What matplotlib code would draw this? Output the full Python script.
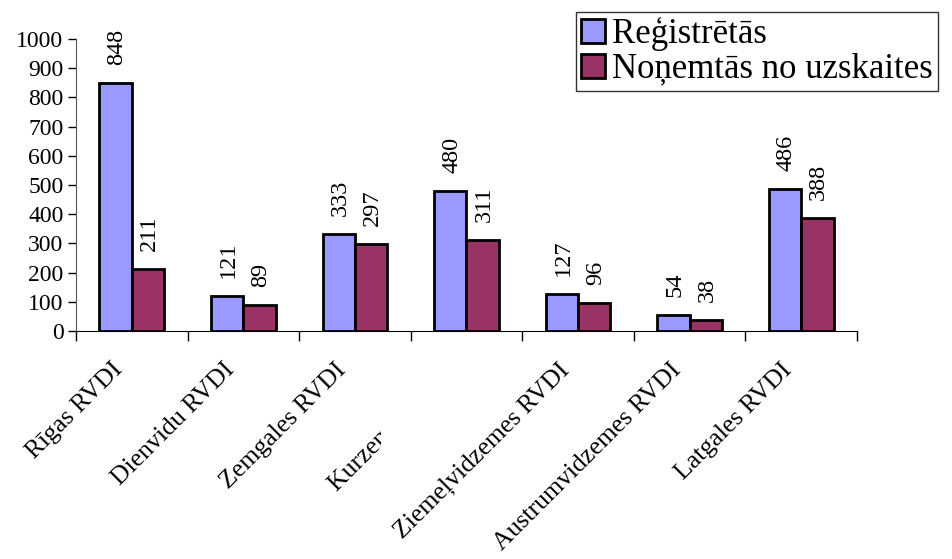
import matplotlib
matplotlib.use("Agg")
import matplotlib.pyplot as plt
import numpy as np
from matplotlib.transforms import Bbox, TransformedBbox, IdentityTransform

# dati
regions = ['Rīgas RVDI', 'Dienvidu RVDI', 'Zemgales RVDI', 'Kurzemes RVDI',
           'Ziemeļvidzemes RVDI', 'Austrumvidzemes RVDI', 'Latgales RVDI']
registered = [848, 121, 333, 480, 127, 54, 486]
removed = [211, 89, 297, 311, 96, 38, 388]
series_names = ['Reģistrētās', 'Noņemtās no uzskaites']

plt.rcParams['font.family'] = ['Liberation Serif', 'DejaVu Serif']

fig = plt.figure(figsize=(9.52, 5.59), dpi=100)
ax = fig.add_axes([0.0798, 0.4079, 0.8204, 0.5223])

x = np.arange(len(regions))
w = 0.29
b1 = ax.bar(x - w / 2, registered, w, color='#9999FF', edgecolor='black', linewidth=2,
            label=series_names[0])
b2 = ax.bar(x + w / 2, removed, w, color='#993366', edgecolor='black', linewidth=2,
            label=series_names[1])

# vērtību etiķetes
for bars in (b1, b2):
    for rect in bars:
        h = rect.get_height()
        ax.annotate(f'{int(h)}', xy=(rect.get_x() + rect.get_width() / 2, h),
                    xytext=(1, 13), textcoords='offset points',
                    rotation=90, ha='center', va='bottom', fontsize=17.5)

ax.set_xlim(-0.5, len(regions) - 0.5)
ax.set_ylim(0, 1000)
ax.set_yticks(np.arange(0, 1001, 100))
ax.tick_params(axis='y', labelsize=17, length=6, width=1, pad=3)

ax.set_xticks(np.arange(-0.5, len(regions), 1))
ax.set_xticklabels([])
ax.tick_params(axis='x', which='major', length=7, width=1)
# etiķešu gals nedaudz pa kreisi no kategorijas centra
ax.set_xticks(x - 0.04, minor=True)
ax.set_xticklabels(regions, minor=True, rotation=45, ha='right', va='top', fontsize=18.5)
ax.tick_params(axis='x', which='minor', length=0, pad=20)

for s in ('top', 'right'):
    ax.spines[s].set_visible(False)
ax.spines['left'].set_color('#555555')

# Kurzemes etiķete nogriezta
for lab in ax.get_xticklabels(minor=True):
    if lab.get_text().startswith('Kurz'):
        lab.set_clip_on(True)
        lab.set_clip_box(TransformedBbox(Bbox([[0, 0], [381, 559]]), IdentityTransform()))

leg = fig.legend(loc='upper left', bbox_to_anchor=(576 / 952, 1 - 12 / 559),
                 fontsize=25, frameon=True, fancybox=False, borderpad=0.15,
                 handlelength=0.68, handleheight=0.68, handletextpad=0.2,
                 labelspacing=0.05, borderaxespad=0)
leg.get_frame().set_edgecolor('black')
leg.get_frame().set_linewidth(1)

fig.savefig('out.png', dpi=100)
